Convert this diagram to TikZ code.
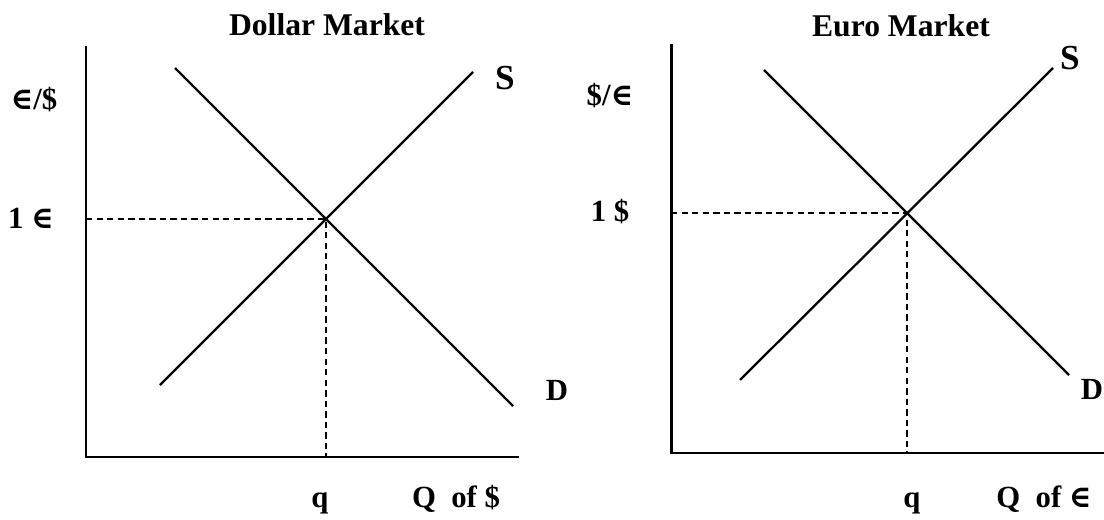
\documentclass[tikz,border=0pt]{standalone}
\usepackage{fontspec}
\setmainfont{Liberation Serif}
\newfontfamily\symfam[Scale=1.0]{DejaVu Serif}
\usepackage{tikz}
\usetikzlibrary{positioning}

\newcommand{\eur}{{\symfam\bfseries ∈}}

\tikzset{
  axis/.style={line width=1.7pt},
  curve/.style={line width=1.3pt},
  guide/.style={line width=1.2pt, dash pattern=on 3.6pt off 2.4pt},
  lbl/.style={font=\fontsize{17.5}{20}\selectfont\bfseries, inner sep=0pt},
  big/.style={font=\fontsize{20}{22}\selectfont\bfseries, inner sep=0pt},
  ttl/.style={font=\fontsize{18}{20}\selectfont\bfseries, inner sep=0pt}
}

\begin{document}
\begin{tikzpicture}
  \useasboundingbox (0,0) rectangle (22.08,10.38);

  % Dollar market
  \coordinate (o1) at (1.72,1.24);
  \coordinate (ytop1) at (1.72,9.46);
  \coordinate (xend1) at (10.38,1.24);
  \coordinate (dtop1) at (3.50,9.02);
  \coordinate (dbot1) at (10.26,2.26);
  \coordinate (sbot1) at (3.20,2.68);
  \coordinate (stop1) at (9.46,8.94);
  \coordinate (eq1) at (6.52,6.00);

  \draw[axis] (ytop1) -- (o1) -- (xend1);
  \draw[curve] (dtop1) -- (dbot1);
  \draw[curve] (sbot1) -- (stop1);
  \draw[guide] (o1 |- eq1) -- (eq1) -- (eq1 |- o1);

  \node[ttl] (title1) at (6.54,9.88) {Dollar Market};
  \node[lbl] (price1) at (0.68,8.38) {\eur/\$};
  \node[lbl] (one1) at (0.62,6.02) {1 \eur};
  \node[big] (s1) at (10.10,8.82) {S};
  \node[lbl] (d1) at (11.14,2.58) {D};
  \node[lbl, anchor=base] (q1) at (6.40,0.24) {q};
  \node[lbl, anchor=base] (qty1) at (9.12,0.24) {Q\ \ of \$};

  % Euro market
  \coordinate (o2) at (13.42,1.32);
  \coordinate (ytop2) at (13.42,9.50);
  \coordinate (xend2) at (22.08,1.32);
  \coordinate (dtop2) at (15.28,8.98);
  \coordinate (dbot2) at (21.38,2.88);
  \coordinate (sbot2) at (14.80,2.78);
  \coordinate (stop2) at (21.06,9.02);
  \coordinate (eq2) at (18.14,6.12);

  \draw[axis] (ytop2) -- (o2) -- (xend2);
  \draw[curve] (dtop2) -- (dbot2);
  \draw[curve] (sbot2) -- (stop2);
  \draw[guide] (o2 |- eq2) -- (eq2) -- (eq2 |- o2);

  \node[ttl] (title2) at (18.02,9.86) {Euro Market};
  \node[lbl] (price2) at (12.20,8.46) {\$/\eur};
  \node[lbl] (one2) at (12.20,6.14) {1 \$};
  \node[big] (s2) at (21.40,9.22) {S};
  \node[lbl] (d2) at (21.84,2.60) {D};
  \node[lbl, anchor=base] (q2) at (18.24,0.24) {q};
  \node[lbl, anchor=base] (qty2) at (20.88,0.24) {Q\ \ of \eur};

\end{tikzpicture}
\end{document}
